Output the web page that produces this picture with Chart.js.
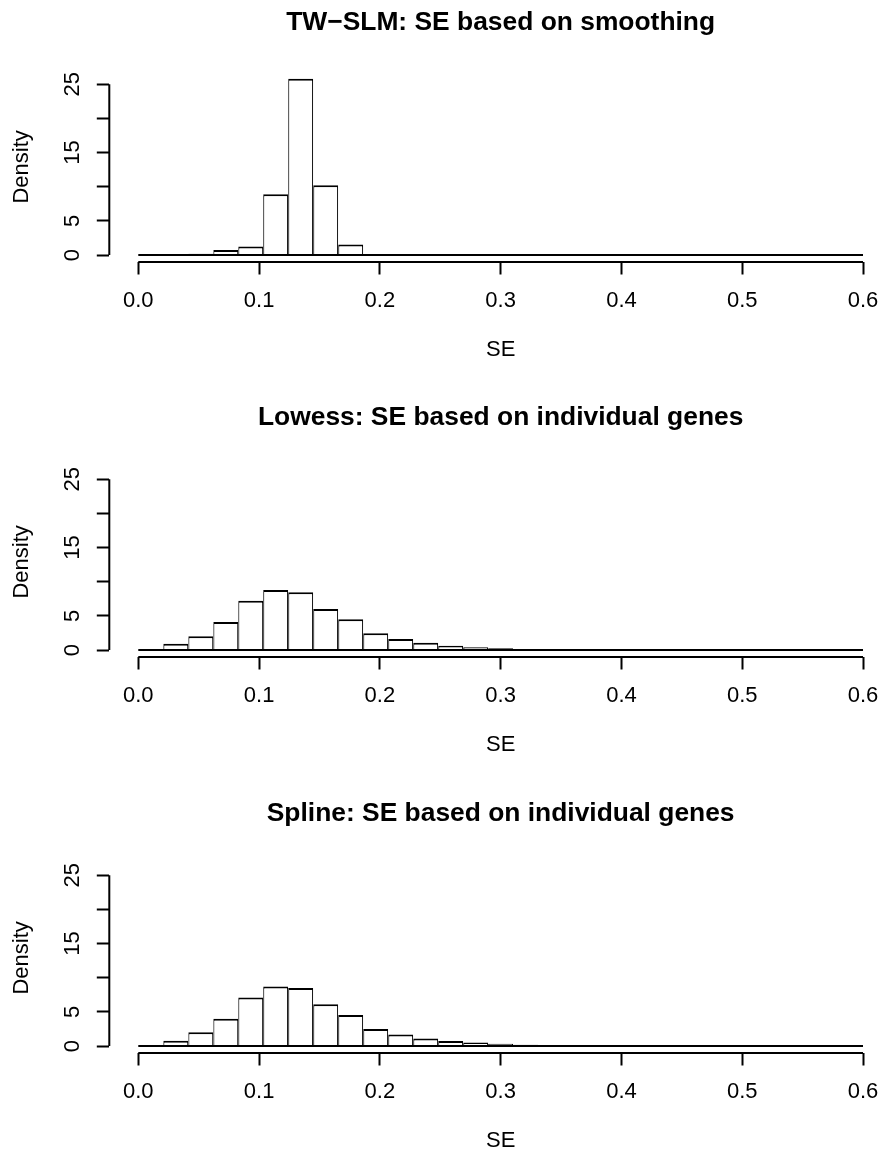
<!DOCTYPE html>
<html>
<head>
<meta charset="utf-8">
<script src="https://cdn.jsdelivr.net/npm/chart.js@4/dist/chart.umd.min.js"></script>
<style>
  html, body { margin: 0; padding: 0; background: #fff; overflow: hidden; width: 880px; height: 1152px; }
  canvas { position: absolute; left: 0; }
</style>
</head>
<body>
<canvas id="c0" width="892" height="372" style="top:0px"></canvas>
<canvas id="c1" width="892" height="372" style="top:395px"></canvas>
<canvas id="c2" width="892" height="372" style="top:791px"></canvas>
<script>
// histogram breaks (29 bins between 0 and 0.6)
const breaks = [0, 0.0207, 0.0414, 0.0621, 0.0828, 0.1034, 0.1241, 0.1448, 0.1655, 0.1862,
  0.2069, 0.2276, 0.2483, 0.2690, 0.2897, 0.3103, 0.3310, 0.3517, 0.3724, 0.3931,
  0.4138, 0.4345, 0.4552, 0.4759, 0.4966, 0.5172, 0.5379, 0.5586, 0.5793, 0.6];

// densities, one per bin
const twslmDensity = [0, 0, 0.2, 0.72, 1.25, 8.9, 25.8, 10.2, 1.55, 0,
  0.08, 0.08, 0, 0, 0, 0, 0, 0, 0, 0,
  0, 0, 0, 0, 0, 0, 0, 0, 0];
const lowessDensity = [0.1, 0.9, 2.0, 4.1, 7.2, 8.8, 8.45, 6.0, 4.5, 2.45,
  1.6, 1.08, 0.63, 0.4, 0.25, 0.15, 0.08, 0.05, 0.04, 0.03,
  0.03, 0.02, 0.02, 0.01, 0.03, 0.01, 0.01, 0.03, 0.01];
const splineDensity = [0.05, 0.78, 2.0, 4.0, 7.1, 8.7, 8.5, 6.1, 4.55, 2.5,
  1.7, 1.1, 0.75, 0.5, 0.33, 0.18, 0.1, 0.07, 0.05, 0.04,
  0.04, 0.03, 0.02, 0.02, 0.01, 0.02, 0.01, 0.01, 0.01];

const titles = [
  'TW\u2212SLM: SE based on smoothing',
  'Lowess: SE based on individual genes',
  'Spline: SE based on individual genes'
];

const xTicks = [0, 0.1, 0.2, 0.3, 0.4, 0.5, 0.6];
const xTickLabels = ['0.0', '0.1', '0.2', '0.3', '0.4', '0.5', '0.6'];
const yTicks = [0, 5, 10, 15, 20, 25];
const yTickLabels = ['0', '5', '', '15', '', '25'];

const FONT = 'Liberation Sans, Arial, Helvetica, sans-serif';

// R style axes: line only from first to last tick
const axisLines = {
  id: 'axisLines',
  afterDraw(chart) {
    const {ctx, chartArea, scales: {x, y}} = chart;
    ctx.save();
    ctx.strokeStyle = '#000';
    ctx.lineWidth = 2;
    ctx.beginPath();
    ctx.moveTo(x.getPixelForValue(xTicks[0]), chartArea.bottom);
    ctx.lineTo(x.getPixelForValue(xTicks[xTicks.length - 1]), chartArea.bottom);
    ctx.moveTo(chartArea.left, y.getPixelForValue(yTicks[0]));
    ctx.lineTo(chartArea.left, y.getPixelForValue(yTicks[yTicks.length - 1]));
    ctx.stroke();
    ctx.restore();
  }
};

const drawHist = (id, title, dens) => {
  const bars = dens.map((d, i) => ({x: (breaks[i] + breaks[i + 1]) / 2, y: d}));
  new Chart(document.getElementById(id), {
    type: 'bar',
    data: {
      datasets: [{
        type: 'bar',
        data: bars,
        backgroundColor: '#fff',
        borderColor: '#000',
        borderWidth: {top: 2, left: 1.1, right: 1.1, bottom: 0},
        borderSkipped: false,
        barPercentage: 1,
        categoryPercentage: 1,
        inflateAmount: 0,
        order: 1
      }, {
        type: 'line',
        data: [{x: breaks[0], y: 0}, {x: breaks[breaks.length - 1], y: 0}],
        borderColor: '#000',
        borderWidth: 2,
        pointRadius: 0,
        order: 0
      }]
    },
    options: {
      responsive: false,
      animation: false,
      layout: {padding: 0},
      plugins: {
        legend: {display: false},
        tooltip: {enabled: false},
        title: {
          display: true,
          text: title,
          color: '#000',
          fullSize: false,
          font: {family: FONT, size: 26.4, weight: 'bold'},
          padding: {top: 6.7, bottom: 33.3}
        }
      },
      scales: {
        x: {
          type: 'linear',
          min: -0.024,
          max: 0.624,
          offset: false,
          afterBuildTicks: s => { s.ticks = xTicks.map(v => ({value: v})); },
          afterFit: s => { s.height = 110; },
          grid: {offset: false, drawOnChartArea: false, drawTicks: true, tickLength: 12.5, tickColor: '#000', tickWidth: 2},
          border: {display: false},
          ticks: {
            color: '#000',
            padding: 12.9,
            maxRotation: 0,
            autoSkip: false,
            font: {family: FONT, size: 22},
            callback: (v, i) => xTickLabels[i]
          },
          title: {display: true, text: 'SE', color: '#000', font: {family: FONT, size: 22}, padding: {top: 0, bottom: 8.5}}
        },
        y: {
          type: 'linear',
          min: -1.023,
          max: 26.83,
          afterBuildTicks: s => { s.ticks = yTicks.map(v => ({value: v})); },
          afterFit: s => { s.width = 109.3; },
          grid: {drawOnChartArea: false, drawTicks: true, tickLength: 12.5, tickColor: '#000', tickWidth: 2},
          border: {display: false},
          ticks: {
            color: '#000',
            padding: 12,
            minRotation: 90,
            maxRotation: 90,
            crossAlign: 'center',
            autoSkip: false,
            font: {family: FONT, size: 22},
            callback: (v, i) => yTickLabels[i]
          },
          title: {display: true, text: 'Density', color: '#000', font: {family: FONT, size: 22}, padding: {top: 9, bottom: 0}}
        }
      }
    },
    plugins: [axisLines]
  });
};

drawHist('c0', titles[0], twslmDensity);
drawHist('c1', titles[1], lowessDensity);
drawHist('c2', titles[2], splineDensity);
</script>
</body>
</html>
